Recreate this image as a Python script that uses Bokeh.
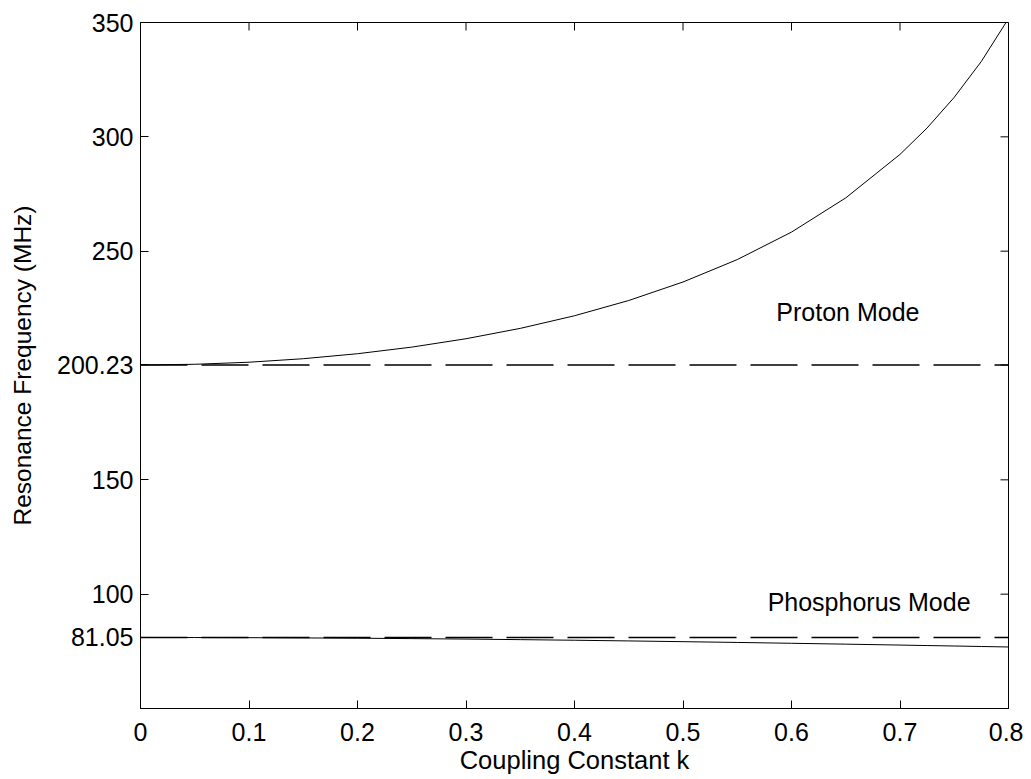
import math
from bokeh.plotting import figure
from bokeh.models import FixedTicker, CustomJSTickFormatter, Range1d
from bokeh.core.properties import value
from bokeh.embed import file_html
from bokeh.resources import INLINE

# Coupling constant k
k = [0.0, 0.05, 0.1, 0.15, 0.2, 0.25, 0.3, 0.35, 0.4, 0.45, 0.5, 0.55, 0.6,
     0.65, 0.7, 0.725, 0.75, 0.775, 0.8]
# Proton (upper) mode frequency, MHz
proton = [200.23, 200.53, 201.43, 202.97, 205.15, 208.04, 211.70, 216.23, 221.75,
          228.43, 236.51, 246.32, 258.34, 273.30, 292.32, 303.89, 317.29, 333.00, 351.71]
# Phosphorus (lower) mode frequency, MHz
phosphorus = [81.05, 81.03, 80.97, 80.87, 80.74, 80.56, 80.36, 80.12, 79.85,
              79.55, 79.23, 78.89, 78.52, 78.14, 77.74, 77.53, 77.33, 77.12, 76.90]
# Uncoupled reference frequencies (dashed)
k_ref = [0.0, 0.8]
proton_ref = [200.23, 200.23]
phosphorus_ref = [81.05, 81.05]

x_ticks = [0, 0.1, 0.2, 0.3, 0.4, 0.5, 0.6, 0.7, 0.8]
y_ticks = [81.05, 100, 150, 200.23, 250, 300, 350]

labels = ["Proton Mode", "Phosphorus Mode"]
label_k = [0.586, 0.578]
label_f = [223.2, 96.4]

X_MIN, X_MAX = 0.0, 0.8
Y_MIN, Y_MAX = 50, 350

FONT = "Liberation Sans"
FS = "25px"

p = figure(width=1023, height=779, output_backend="svg", toolbar_location=None,
           x_range=Range1d(X_MIN, X_MAX), y_range=Range1d(Y_MIN, Y_MAX),
           min_border_left=140, min_border_right=15, min_border_top=22,
           min_border_bottom=71)
p.background_fill_color = "white"
p.border_fill_color = "white"
p.outline_line_color = "black"
p.outline_line_width = 1
p.grid.visible = False

fmt = CustomJSTickFormatter(code="return tick.toString();")

for ax in (p.xaxis[0], p.yaxis[0]):
    ax.major_label_text_font = FONT
    ax.major_label_text_font_size = FS
    ax.major_label_text_color = "black"
    ax.axis_label_text_font = FONT
    ax.axis_label_text_font_style = "normal"
    ax.axis_label_text_color = "black"
    ax.major_tick_in = 8
    ax.major_tick_out = 0
    ax.minor_tick_line_color = None
    ax.axis_line_color = "black"
    ax.major_tick_line_color = "black"
    ax.formatter = fmt

p.xaxis[0].ticker = FixedTicker(ticks=x_ticks)
p.yaxis[0].ticker = FixedTicker(ticks=y_ticks)
p.xaxis[0].axis_label = "Coupling Constant k"
p.yaxis[0].axis_label = "Resonance Frequency (MHz)"
p.xaxis[0].axis_label_text_font_size = "25.5px"
p.yaxis[0].axis_label_text_font_size = "24.5px"
p.xaxis[0].major_label_standoff = 14
p.xaxis[0].axis_label_standoff = 2
p.yaxis[0].major_label_standoff = 7
p.yaxis[0].axis_label_standoff = 18

# inward ticks on the top and right edges of the box
p.ray(x=x_ticks, y=[Y_MAX] * len(x_ticks), length=8, length_units="screen",
      angle=-math.pi / 2, line_color="black", line_width=1)
p.ray(x=[X_MAX] * len(y_ticks), y=y_ticks, length=8, length_units="screen",
      angle=math.pi, line_color="black", line_width=1)

p.line(k_ref, proton_ref, line_color="black", line_width=1.6, line_dash="47 14")
p.line(k_ref, phosphorus_ref, line_color="black", line_width=1.6, line_dash="47 14")
p.line(k, proton, line_color="black", line_width=1)
p.line(k, phosphorus, line_color="black", line_width=1)

p.text(x=label_k, y=label_f, text=labels, text_font=value(FONT), text_font_size=FS,
       text_align="left", text_baseline="middle", text_color="black")

open("out.html", "w").write(file_html(p, INLINE))
